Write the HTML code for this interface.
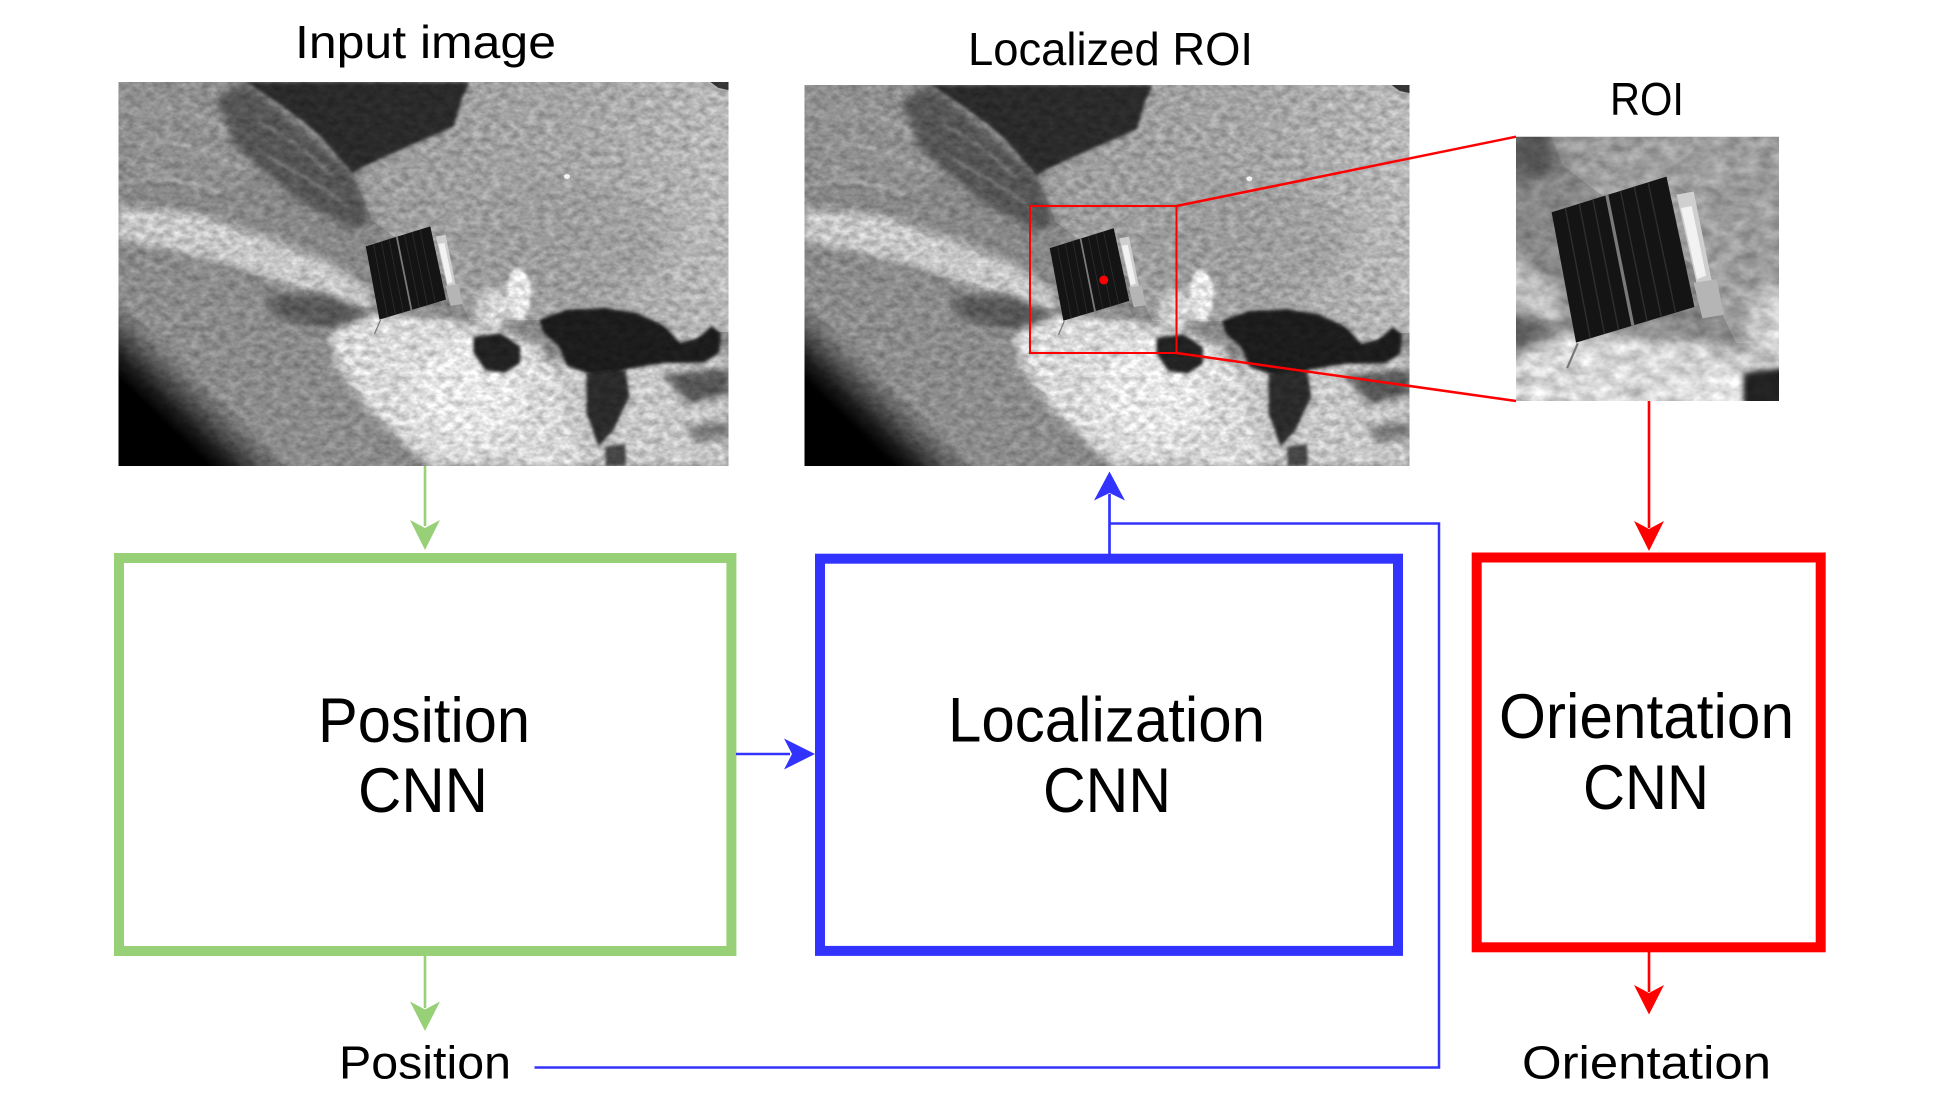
<!DOCTYPE html>
<html><head><meta charset="utf-8">
<style>
html,body{margin:0;padding:0;background:#fff;width:1936px;height:1103px;overflow:hidden}
svg{display:block}
text{font-family:"Liberation Sans",Arial,sans-serif;fill:#000}
</style></head>
<body>
<svg width="1936" height="1103" viewBox="0 0 1936 1103" xmlns="http://www.w3.org/2000/svg">
<defs>
  <filter id="b2" x="-20%" y="-20%" width="140%" height="140%"><feGaussianBlur stdDeviation="1.5"/></filter>
  <filter id="b4" x="-20%" y="-20%" width="140%" height="140%"><feGaussianBlur stdDeviation="4"/></filter>
  <filter id="b8" x="-30%" y="-30%" width="160%" height="160%"><feGaussianBlur stdDeviation="8"/></filter>
  <filter id="tex" filterUnits="userSpaceOnUse" x="0" y="0" width="610" height="384" color-interpolation-filters="sRGB">
    <feTurbulence type="fractalNoise" baseFrequency="0.11 0.16" numOctaves="3" seed="7" result="n"/>
    <feColorMatrix in="n" type="matrix" values="1 0 0 0 0  1 0 0 0 0  1 0 0 0 0  0 0 0 0 1" result="g"/>
    <feComposite in="SourceGraphic" in2="g" operator="arithmetic" k1="0.55" k2="0.73" k3="0" k4="0"/>
  </filter>
  <linearGradient id="land" gradientUnits="userSpaceOnUse" x1="250" y1="0" x2="610" y2="0">
    <stop offset="0" stop-color="#9b9b9b"/>
    <stop offset="0.6" stop-color="#a4a4a4"/>
    <stop offset="1" stop-color="#b8b8b8"/>
  </linearGradient>
  <linearGradient id="limb" gradientUnits="userSpaceOnUse" x1="0" y1="215" x2="-45.2" y2="261.7">
    <stop offset="0" stop-color="#000" stop-opacity="0"/>
    <stop offset="0.35" stop-color="#000" stop-opacity="0.4"/>
    <stop offset="0.65" stop-color="#000" stop-opacity="0.8"/>
    <stop offset="0.9" stop-color="#000" stop-opacity="1"/>
  </linearGradient>
  <clipPath id="cpb"><rect x="0" y="0" width="610" height="384"/></clipPath>
  <clipPath id="cpRoi"><rect x="1516" y="136.7" width="263" height="264.3"/></clipPath>

  <g id="earth" clip-path="url(#cpb)">
    <g filter="url(#tex)">
      <rect width="610" height="384" fill="#878787"/>
      <!-- land -->
      <polygon points="300,0 610,0 610,250 600,250 560,262 540,240 421,238 351,238 331.5,198 253.5,138 234,91" fill="url(#land)"/>
      <ellipse cx="440" cy="160" rx="110" ry="60" fill="#979797" opacity="0.5" filter="url(#b8)"/>
      <!-- upper-left clouds -->
      <polygon points="0,0 110,0 160,60 120,110 40,100 0,90" fill="#8e8e8e" filter="url(#b4)"/>
      <path d="M10,30 Q60,20 110,50 M20,60 Q70,55 130,90 M0,100 Q50,90 100,110" stroke="#bdbdbd" stroke-width="4" fill="none" opacity="0.45" filter="url(#b2)"/>
      <!-- dark cloud band -->
      <polygon points="128.7,1.3 234,91 253.5,138 234,148 175.5,114.6 117,64.6 97.5,14.7" fill="#555" filter="url(#b4)"/>
      <path d="M140,40 Q180,60 215,95 M150,75 Q190,95 230,125" stroke="#a0a0a0" stroke-width="3" fill="none" opacity="0.4" filter="url(#b2)"/>
      <!-- white band -->
      <polygon points="0,124.7 78,131 156,158 218.4,184.5 253.5,211 249.6,231 195,211 117,184.5 39,164.6 0,158" fill="#c6c6c6" filter="url(#b4)"/>
      <!-- lower left mid -->
      <polygon points="0,170 100,190 200,240 253,300 260,384 100,384 0,330" fill="#8b8b8b" filter="url(#b4)"/>
      <!-- dark swirl -->
      <polygon points="148,214.6 203,211 253.5,231 249.6,251 195,244.6 156,234.6" fill="#595959" filter="url(#b4)"/>
      <!-- bottom right cloud base -->
      <polygon points="405,281 611,270 611,384 405,384" fill="#c6c6c6" filter="url(#b4)"/>
      <!-- bright clouds lower center -->
      <polygon points="253.5,231 331.5,238 390,251 421,264.6 436.8,298 448.5,331 460,384 312,384 253.5,331 218.4,284.6 210.6,251" fill="#d6d6d6" filter="url(#b4)"/>
      <ellipse cx="350" cy="310" rx="55" ry="50" fill="#ececec" opacity="0.7" filter="url(#b8)"/>
      <ellipse cx="400" cy="212" rx="12" ry="26" fill="#e8e8e8" filter="url(#b2)"/>
      <ellipse cx="375" cy="228" rx="16" ry="22" fill="#d2d2d2" filter="url(#b4)"/>
      <!-- top ocean -->
      <polygon points="128,0 351,0 343,18 335,45 311.5,55 288,65 253,81 233.5,91 202.5,55 183,38 155.5,18" fill="#2c2c2c" filter="url(#b2)"/>
      <polygon points="592,0 610,0 610,8 600,6" fill="#333"/>
      <!-- bottom right dark blob -->
      <polygon points="421,237.6 448.4,227.6 487.4,226 518.5,231 546,244.3 561.5,261 577,257.6 593,244.3 602.5,251 600.5,271 585,281 546,281 507,287.5 487.5,297.5 468,290.8 448.4,284 440.5,264 425,251" fill="#1c1c1c" filter="url(#b2)"/>
      <polygon points="355,254.6 382,251 401.7,264.6 401.7,281 386,291 366.6,288 355,271" fill="#232323" filter="url(#b2)"/>
      <polygon points="468,291 507,288 511,314.6 495,348 480,364.6 468,331" fill="#2a2a2a" filter="url(#b2)"/>
      <polygon points="487,364 507,362 507,384 487,384" fill="#444" filter="url(#b2)"/>
      <polygon points="545,292 611,286 611,312 570,322" fill="#555" filter="url(#b4)"/>
      <polygon points="565,345 611,338 611,356 580,360" fill="#777" filter="url(#b4)"/>
      <ellipse cx="448.5" cy="94.6" rx="3" ry="2.5" fill="#eee"/>
      <!-- limb darkening -->
      <rect width="610" height="384" fill="url(#limb)"/>
    </g>
    <!-- satellite -->
    <polygon points="247.3,164.4 311.8,144.4 327.5,217.6 261,237.6" fill="#141414"/>
    <g stroke="#2e2e2e" stroke-width="0.8">
      <line x1="255" y1="162" x2="269" y2="235.2"/>
      <line x1="262.8" y1="159.6" x2="277" y2="232.8"/>
      <line x1="270.5" y1="157.2" x2="284.9" y2="230.4"/>
      <line x1="286" y1="152.4" x2="300.9" y2="225.6"/>
      <line x1="293.7" y1="150" x2="308.9" y2="223.2"/>
      <line x1="301.5" y1="147.6" x2="316.9" y2="220.8"/>
    </g>
    <line x1="278.3" y1="154.8" x2="292.9" y2="228" stroke="#7a7a7a" stroke-width="1.8"/>
    <polygon points="317.4,154.5 327.1,152.8 338.8,211 331,214.3" fill="#cfcfcf"/>
    <polygon points="320,162 326,161 334,200 329,202" fill="#f2f2f2"/>
    <polygon points="327,204 340,202 344,222 332,224" fill="#b5b5b5"/>
    <line x1="262" y1="238" x2="256" y2="252" stroke="#777" stroke-width="1.2"/>
  </g>
</defs>

<!-- Titles -->
<text x="295" y="58" font-size="46" textLength="261" lengthAdjust="spacingAndGlyphs">Input image</text>
<text x="968" y="65" font-size="46" textLength="285" lengthAdjust="spacingAndGlyphs">Localized ROI</text>
<text x="1610" y="115" font-size="46" textLength="74" lengthAdjust="spacingAndGlyphs">ROI</text>

<!-- Images -->
<use href="#earth" transform="translate(118.5,82)"/>
<use href="#earth" transform="translate(804.5,85) scale(0.9918,0.9922)"/>
<g clip-path="url(#cpRoi)">
  <use href="#earth" transform="translate(1516,136.7) scale(1.781) translate(-227.3,-122)"/>
</g>

<!-- ROI marking -->
<rect x="1030" y="206" width="146.5" height="147" fill="none" stroke="#ff0000" stroke-width="2"/>
<circle cx="1103.8" cy="280" r="4.5" fill="#ff0000"/>
<line x1="1176.5" y1="206" x2="1516" y2="136.7" stroke="#ff0000" stroke-width="2.5"/>
<line x1="1176.5" y1="353" x2="1516" y2="401" stroke="#ff0000" stroke-width="2.5"/>

<!-- Boxes -->
<rect x="119" y="558" width="612.4" height="393" fill="none" stroke="#97D077" stroke-width="10"/>
<rect x="820" y="558.7" width="578" height="392.2" fill="none" stroke="#3333FF" stroke-width="10"/>
<rect x="1476.7" y="557.5" width="344" height="389.8" fill="none" stroke="#FF0000" stroke-width="10"/>

<!-- Box texts -->
<text x="318" y="742" font-size="63" textLength="212" lengthAdjust="spacingAndGlyphs">Position</text>
<text x="358" y="812" font-size="63" textLength="130" lengthAdjust="spacingAndGlyphs">CNN</text>
<text x="948" y="741.5" font-size="63" textLength="317" lengthAdjust="spacingAndGlyphs">Localization</text>
<text x="1043" y="812" font-size="63" textLength="128" lengthAdjust="spacingAndGlyphs">CNN</text>
<text x="1499" y="738" font-size="63" textLength="295" lengthAdjust="spacingAndGlyphs">Orientation</text>
<text x="1583" y="809" font-size="63" textLength="126" lengthAdjust="spacingAndGlyphs">CNN</text>

<!-- Green arrows -->
<line x1="425" y1="466" x2="425" y2="526" stroke="#97D077" stroke-width="2.6"/>
<polygon points="425,550 410,520 425,528 440,520" fill="#97D077"/>
<line x1="425" y1="956" x2="425" y2="1008" stroke="#97D077" stroke-width="2.6"/>
<polygon points="425,1031 410,1001.5 425,1009.5 440,1001.5" fill="#97D077"/>

<!-- Blue arrows / lines -->
<line x1="736" y1="754" x2="790" y2="754" stroke="#3333FF" stroke-width="2.6"/>
<polygon points="815,754 784,738.5 792,754 784,769.5" fill="#3333FF"/>
<line x1="1109.5" y1="554" x2="1109.5" y2="494" stroke="#3333FF" stroke-width="2.7"/>
<polygon points="1109.5,471.5 1094,500.5 1109.5,493 1125,500.5" fill="#3333FF"/>
<polyline points="1109.5,523.5 1439,523.5 1439,1067.5 534.5,1067.5" fill="none" stroke="#3333FF" stroke-width="2.5"/>

<!-- Red arrows -->
<line x1="1649" y1="401" x2="1649" y2="528" stroke="#FF0000" stroke-width="2.6"/>
<polygon points="1649,551 1634,521 1649,529 1664,521" fill="#FF0000"/>
<line x1="1649" y1="952" x2="1649" y2="992" stroke="#FF0000" stroke-width="2.6"/>
<polygon points="1649,1014.5 1634,985 1649,993 1664,985" fill="#FF0000"/>

<!-- Output labels -->
<text x="339" y="1078.5" font-size="46" textLength="172" lengthAdjust="spacingAndGlyphs">Position</text>
<text x="1522" y="1078.5" font-size="46" textLength="249" lengthAdjust="spacingAndGlyphs">Orientation</text>
</svg>
</body></html>
